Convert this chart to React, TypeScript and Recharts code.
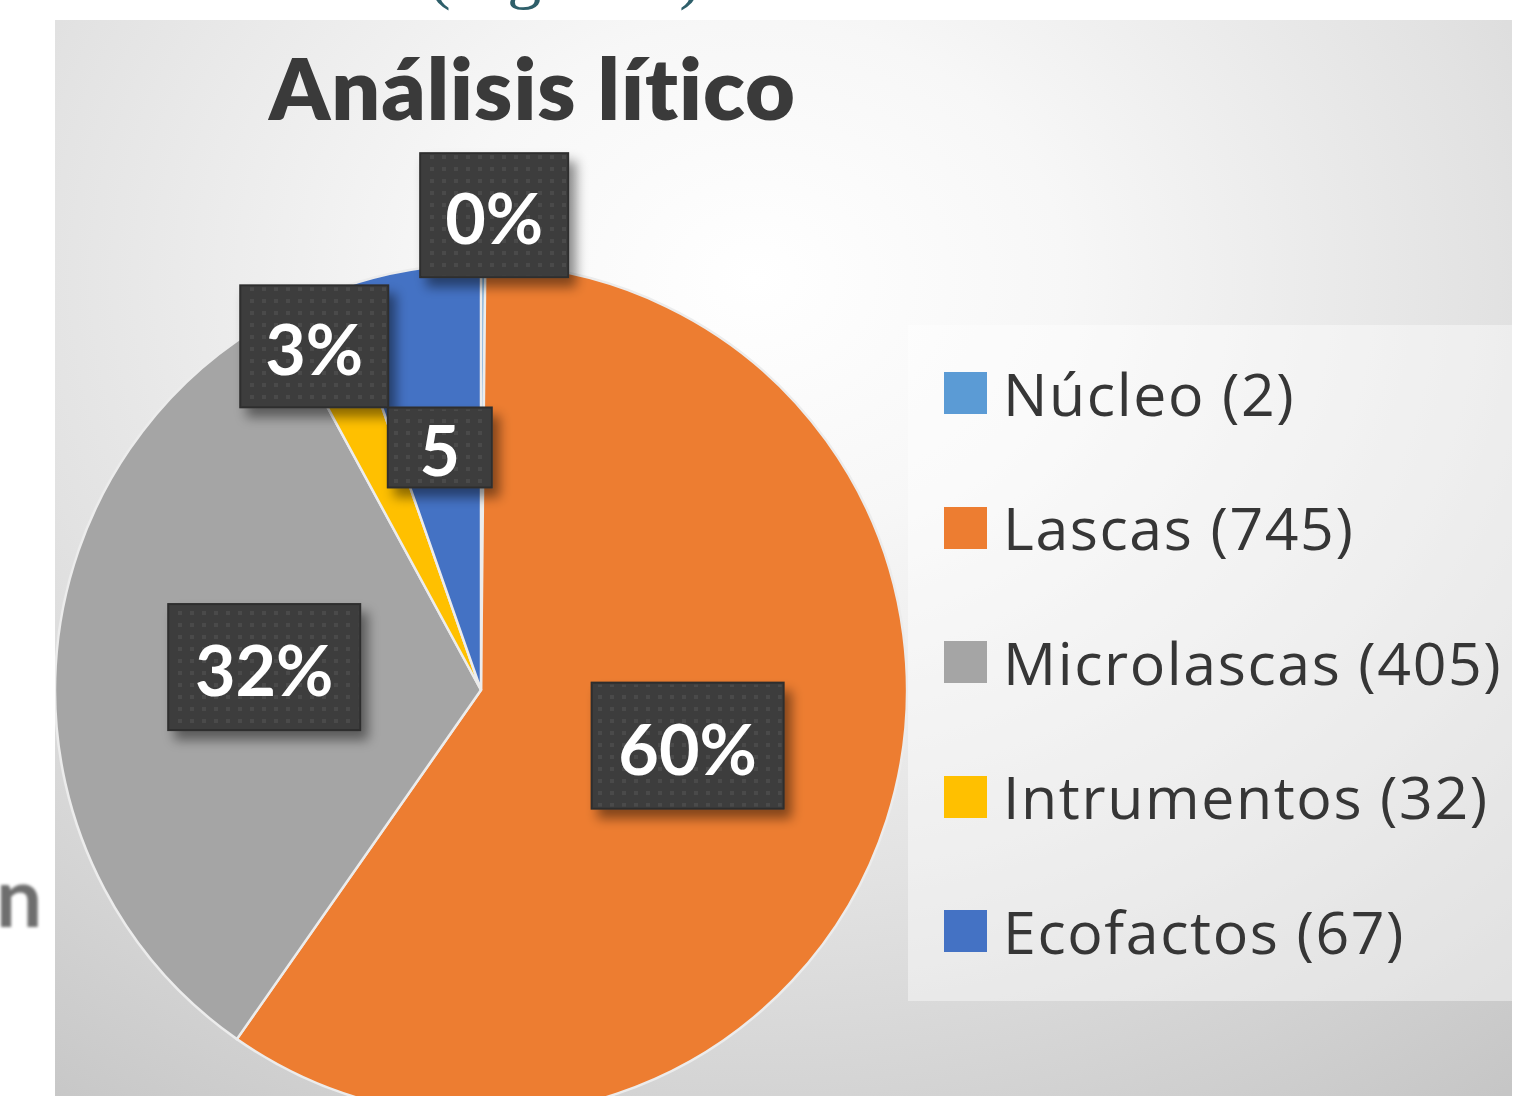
import React from "react";
import { PieChart, Pie, Cell, Legend } from "recharts";

const categories = ["Núcleo", "Lascas", "Microlascas", "Intrumentos", "Ecofactos"];
const counts = [2, 745, 405, 32, 67];
const labelTexts = ["0%", "60%", "32%", "3%", "5"];
const sliceColors = ["#5B9BD5", "#ED7D31", "#A5A5A5", "#FFC000", "#4472C4"];

// where each data label box sits along its slice's mid angle
const labelRadius = [475, 214, 218, 382, 246];
const labelAngleNudge = [-1.3, 2.7, -2.8, 2, 0];
const labelBoxHeight = [124, 126, 126, 122, 80];

const data = categories.map((name, i) => ({
  name,
  value: counts[i],
  legend: `${name} (${counts[i]})`,
}));

const RAD = Math.PI / 180;
const FONT = "Lato, 'Open Sans', sans-serif";

const renderLabel = (props: any) => {
  const { cx, cy, midAngle, index } = props;
  const ang = (midAngle + labelAngleNudge[index]) * RAD;
  const r = labelRadius[index];
  const x = cx + r * Math.cos(ang);
  const y = cy - r * Math.sin(ang);
  const text = labelTexts[index];
  const w = 44 * text.length + 60;
  const h = labelBoxHeight[index];
  return (
    <g key={`lbl-${index}`}>
      <rect
        x={x - w / 2}
        y={y - h / 2}
        width={w}
        height={h}
        fill="#3d3d3d"
        stroke="#2e2e2e"
        strokeWidth={2}
        filter="url(#lblShadow)"
      />
      <rect x={x - w / 2 + 2} y={y - h / 2 + 2} width={w - 4} height={h - 4} fill="url(#lblDots)" />
      <text
        x={x}
        y={y + 2}
        textAnchor="middle"
        dominantBaseline="central"
        fill="#ffffff"
        fontSize={70}
        fontWeight={700}
        fontFamily={FONT}
      >
        {text}
      </text>
    </g>
  );
};

const renderLegend = (props: any) => {
  const payload: any[] = props.payload || [];
  // keep the legend in data order
  const ordered = data
    .map((d) => payload.find((p) => p.value === d.legend))
    .filter(Boolean);
  return (
    <div
      style={{
        width: 604,
        height: 676,
        boxSizing: "border-box",
        paddingTop: 1,
        background: "rgba(255,255,255,0.42)",
      }}
    >
      {ordered.map((entry: any, i: number) => (
        <div key={`leg-${i}`} style={{ display: "flex", alignItems: "center", height: 134.5 }}>
          <span
            style={{
              display: "inline-block",
              width: 43,
              height: 42,
              marginLeft: 36,
              marginRight: 16,
              background: entry.color,
              flex: "none",
            }}
          />
          <span
            style={{
              fontSize: 59,
              fontFamily: "'Open Sans', Lato, sans-serif",
              color: "#363636",
              whiteSpace: "nowrap",
              lineHeight: 1,
              letterSpacing: 1.6,
            }}
          >
            {entry.value}
          </span>
        </div>
      ))}
    </div>
  );
};

export default function App() {
  return (
    <div
      style={{
        position: "absolute",
        left: 0,
        top: 0,
        width: 1538,
        height: 1096,
        overflow: "hidden",
        background: "#ffffff",
      }}
    >
      <svg width={0} height={0} style={{ position: "absolute" }}>
        <defs>
          <filter id="lblShadow" x="-30%" y="-30%" width="170%" height="170%">
            <feDropShadow dx={7} dy={9} stdDeviation={6} floodColor="#000" floodOpacity={0.45} />
          </filter>
          <pattern id="lblDots" width={12} height={12} patternUnits="userSpaceOnUse">
            <rect x={3} y={3} width={4} height={4} fill="#4a4a4a" />
          </pattern>
        </defs>
      </svg>

      <div
        style={{
          position: "absolute",
          left: 428,
          top: -66,
          fontFamily: "'Liberation Serif', 'DejaVu Serif', serif",
          fontSize: 68,
          color: "#2e5f6a",
          whiteSpace: "nowrap",
        }}
      >
        (Figura 6).
      </div>

      <div
        style={{
          position: "absolute",
          left: -4,
          top: 846,
          fontFamily: FONT,
          fontSize: 82,
          fontWeight: 700,
          color: "#6e6e6e",
          filter: "blur(1.5px)",
        }}
      >
        n
      </div>

      <div
        style={{
          position: "absolute",
          left: 55,
          top: 20,
          width: 1457,
          height: 1076,
          overflow: "hidden",
          background:
            "radial-gradient(ellipse 85% 95% at 48% 24%, #ffffff 0%, #f7f7f7 25%, #e2e2e2 60%, #c6c6c6 100%)",
        }}
      >
        <div
          style={{
            position: "absolute",
            left: 0,
            width: 955,
            top: 24,
            textAlign: "center",
            fontFamily: FONT,
            fontSize: 86,
            fontWeight: 800,
            letterSpacing: 1,
            color: "#3a3a3a",
            whiteSpace: "nowrap",
            lineHeight: 1,
          }}
        >
          Análisis lítico
        </div>

        <PieChart width={1457} height={1076} margin={{ top: 0, right: 0, bottom: 0, left: 0 }}>
          <Pie
            data={data}
            dataKey="value"
            nameKey="legend"
            cx={426}
            cy={670}
            outerRadius={426}
            startAngle={90}
            endAngle={-270}
            stroke="#ececec"
            strokeWidth={2.5}
            label={renderLabel}
            labelLine={false}
            isAnimationActive={false}
          >
            {data.map((d, i) => (
              <Cell key={d.name} fill={sliceColors[i]} />
            ))}
          </Pie>
          <Legend
            layout="vertical"
            align="right"
            verticalAlign="top"
            content={renderLegend}
            wrapperStyle={{ position: "absolute", left: 853, top: 305, width: 604, height: 676 }}
          />
        </PieChart>
      </div>
    </div>
  );
}
